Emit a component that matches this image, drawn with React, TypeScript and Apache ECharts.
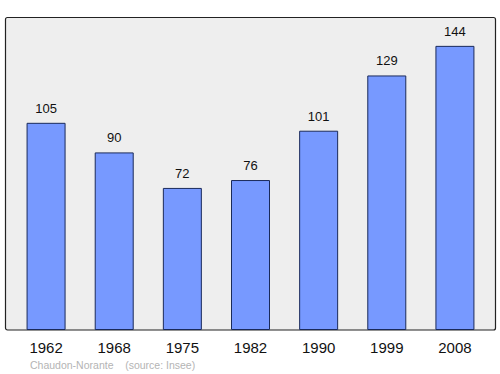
import React, { useEffect, useRef } from "react";
import * as echarts from "echarts";

const years = ["1962", "1968", "1975", "1982", "1990", "1999", "2008"];
const population = [105, 90, 72, 76, 101, 129, 144];
const footer = "Chaudon-Norante    (source: Insee)";

export default function App() {
  const ref = useRef<HTMLDivElement>(null);
  useEffect(() => {
    const chart = echarts.init(ref.current!, undefined, { renderer: "svg" });
    chart.setOption({
      animation: false,
      backgroundColor: "#ffffff",
      graphic: [
        {
          type: "rect",
          shape: { x: 5.5, y: 17.5, width: 490, height: 312.5, r: 2 },
          style: { fill: "#eeeeee", stroke: "#222222", lineWidth: 1.2 },
          z: -10,
          silent: true,
        },
        {
          type: "text",
          left: 30,
          top: 359,
          style: {
            text: footer,
            fill: "#b4b4b4",
            font: "10.5px 'Liberation Sans', Arial, sans-serif",
          },
        },
      ],
      grid: { left: 12, right: 11, top: 14.3, bottom: 44, containLabel: false },
      xAxis: {
        type: "category",
        data: years,
        axisLine: { show: false },
        axisTick: { show: false },
        axisLabel: {
          margin: 10,
          color: "#111",
          fontSize: 15,
          fontFamily: "'Liberation Sans', Arial, sans-serif",
        },
      },
      yAxis: {
        type: "value",
        min: 0,
        max: 160,
        show: false,
        splitLine: { show: false },
      },
      series: [
        {
          type: "bar",
          data: population,
          barWidth: 39,
          itemStyle: { color: "#7799ff", borderColor: "#1a2a5a", borderWidth: 1 },
          label: {
            show: true,
            position: "top",
            distance: 8,
            color: "#111",
            fontSize: 13,
            fontFamily: "'Liberation Sans', Arial, sans-serif",
          },
        },
      ],
    });
    return () => chart.dispose();
  }, []);
  return <div ref={ref} style={{ width: 500, height: 374, position: "absolute", left: 0, top: 0 }} />;
}
